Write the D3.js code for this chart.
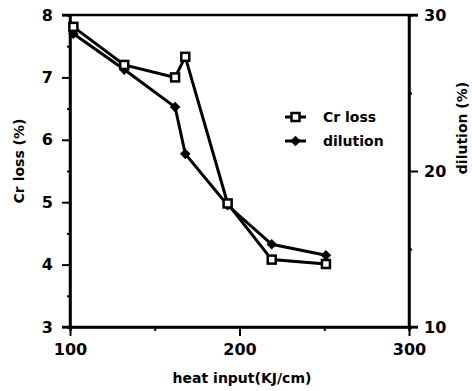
<!DOCTYPE html>
<html>
<head>
<meta charset="utf-8">
<script src="https://cdn.jsdelivr.net/npm/d3@7"></script>
<style>
  body { margin: 0; background: #fff; }
  text { font-family: "DejaVu Sans", sans-serif; font-weight: bold; fill: #000; }
</style>
</head>
<body>
<svg id="chart" width="472" height="391"></svg>
<script>
// heat input (KJ/cm)
const heatInput = [102, 132, 162, 168, 193, 219, 251];
// Cr loss (%) - left axis
const crLoss = [7.81, 7.2, 7.0, 7.33, 4.98, 4.08, 4.01];
// dilution (%) - right axis
const dilution = [28.8, 26.5, 24.1, 21.1, 17.8, 15.3, 14.6];

const xTicks = [100, 200, 300];
const leftTicks = [3, 4, 5, 6, 7, 8];
const rightTicks = [10, 20, 30];

const margin = {top: 15, right: 63, bottom: 64, left: 70};
const width = 472, height = 391;

const svg = d3.select("#chart");
const g = svg.append("g");

const x = d3.scaleLinear().domain([100, 300]).range([margin.left, width - margin.right]);
const yL = d3.scaleLinear().domain([3, 8]).range([height - margin.bottom, margin.top]);
const yR = d3.scaleLinear().domain([10, 30]).range([height - margin.bottom, margin.top]);

// frame: top line
g.append("line")
  .attr("x1", margin.left - 8).attr("x2", width - margin.right + 9)
  .attr("y1", margin.top).attr("y2", margin.top)
  .attr("stroke", "#000").attr("stroke-width", 2.5);

// bottom axis
const xAxis = g.append("g")
  .attr("transform", `translate(0,${height - margin.bottom})`)
  .call(d3.axisBottom(x).tickValues(xTicks).tickSize(9).tickPadding(8).tickFormat(d3.format("d")));
g.append("g")
  .attr("transform", `translate(0,${height - margin.bottom})`)
  .call(d3.axisBottom(x).tickValues([150, 250]).tickSize(4).tickFormat(""));

// left axis
const leftAxis = g.append("g")
  .attr("transform", `translate(${margin.left},0)`)
  .call(d3.axisLeft(yL).tickValues(leftTicks).tickSize(8).tickPadding(9).tickFormat(d3.format("d")));
g.append("g")
  .attr("transform", `translate(${margin.left},0)`)
  .call(d3.axisLeft(yL).tickValues([3.5, 4.5, 5.5, 6.5, 7.5]).tickSize(3).tickFormat(""));

// right axis
const rightAxis = g.append("g")
  .attr("transform", `translate(${width - margin.right},0)`)
  .call(d3.axisRight(yR).tickValues(rightTicks).tickSize(9).tickPadding(6));
g.append("g")
  .attr("transform", `translate(${width - margin.right},0)`)
  .call(d3.axisRight(yR).tickValues([15, 25]).tickSize(3).tickFormat(""));

g.selectAll(".domain").attr("stroke", "#000").attr("stroke-width", 2.5);
g.selectAll(".tick line").attr("stroke", "#000").attr("stroke-width", 2);
g.selectAll(".tick text").style("font-size", "16px").style("font-family", "DejaVu Sans").style("font-weight", "bold");
// remove the outer end caps of domain paths
leftAxis.select(".domain").attr("d", `M0,${yL(3)}V${yL(8)}`);
rightAxis.select(".domain").attr("d", `M0,${yR(10)}V${yR(30)}`);
xAxis.select(".domain").attr("d", `M${x(100) - 8},0H${x(300) + 9}`);

// axis titles
g.append("text")
  .attr("x", 242).attr("y", 383)
  .attr("text-anchor", "middle")
  .style("font-size", "14px")
  .text("heat input(KJ/cm)");

g.append("text")
  .attr("transform", "translate(24,161) rotate(-90)")
  .attr("text-anchor", "middle")
  .style("font-size", "14px")
  .text("Cr loss (%)");

g.append("text")
  .attr("transform", "translate(467,128) rotate(-90)")
  .attr("text-anchor", "middle")
  .style("font-size", "14px")
  .text("dilution (%)");

// lines
const crLine = d3.line().x((d, i) => x(heatInput[i])).y(d => yL(d));
const dilLine = d3.line().x((d, i) => x(heatInput[i])).y(d => yR(d));

g.append("path").datum(dilution)
  .attr("d", dilLine).attr("fill", "none").attr("stroke", "#000").attr("stroke-width", 3);
g.append("path").datum(crLoss)
  .attr("d", crLine).attr("fill", "none").attr("stroke", "#000").attr("stroke-width", 3);

// markers
const diamond = d3.symbol().type(d3.symbolSquare).size(56);
g.selectAll(".dil").data(dilution).join("path")
  .attr("class", "dil")
  .attr("transform", (d, i) => `translate(${x(heatInput[i])},${yR(d)}) rotate(45)`)
  .attr("d", diamond).attr("fill", "#000");

g.selectAll(".cr").data(crLoss).join("rect")
  .attr("class", "cr")
  .attr("x", (d, i) => x(heatInput[i]) - 4)
  .attr("y", d => yL(d) - 4)
  .attr("width", 8).attr("height", 8)
  .attr("fill", "#fff").attr("stroke", "#000").attr("stroke-width", 2.5);

// legend
const legend = g.append("g");
const legendItems = ["Cr loss", "dilution"];
legendItems.forEach((name, i) => {
  const ly = 117 + i * 24;
  legend.append("line")
    .attr("x1", 285).attr("x2", 306).attr("y1", ly).attr("y2", ly)
    .attr("stroke", "#000").attr("stroke-width", 3);
  if (i === 0) {
    legend.append("rect").attr("x", 291.5).attr("y", ly - 4).attr("width", 8).attr("height", 8)
      .attr("fill", "#fff").attr("stroke", "#000").attr("stroke-width", 2.5);
  } else {
    legend.append("path").attr("transform", `translate(295.5,${ly}) rotate(45)`).attr("d", diamond).attr("fill", "#000");
  }
  legend.append("text")
    .attr("x", 323).attr("y", ly + 5)
    .style("font-size", "14px")
    .text(name);
});
</script>
</body>
</html>
